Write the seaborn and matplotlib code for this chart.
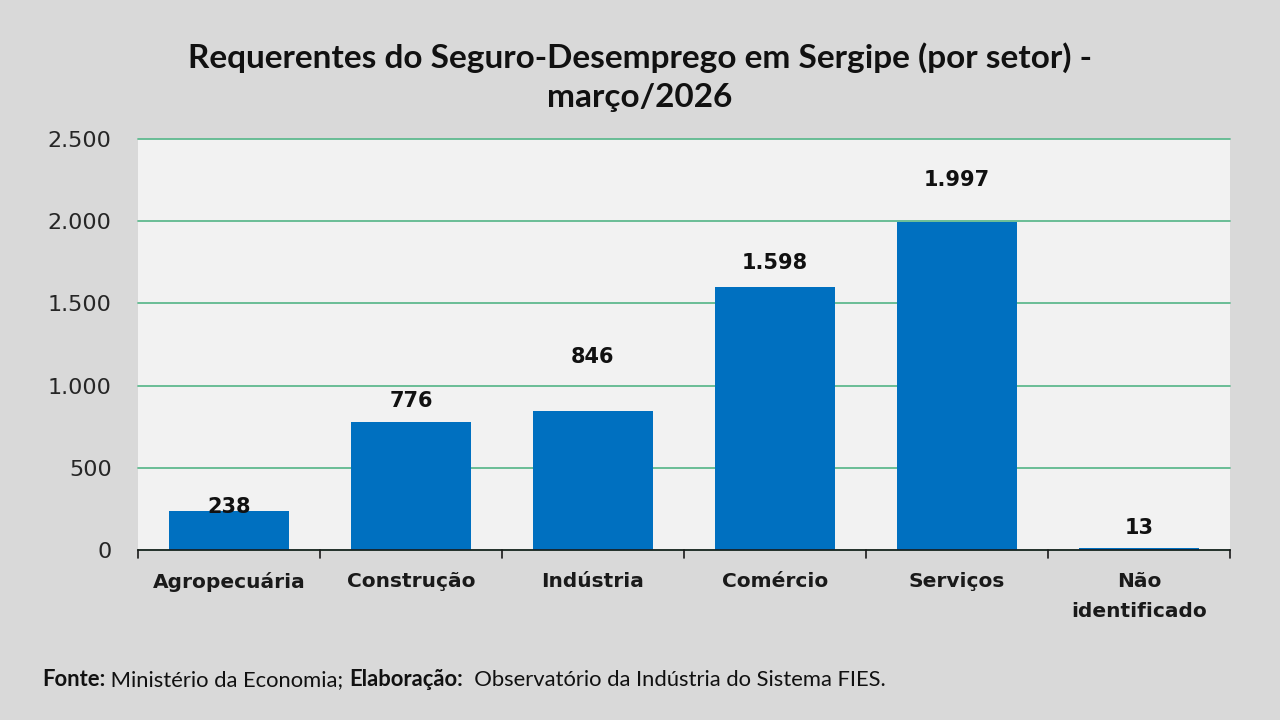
import matplotlib
matplotlib.use("Agg")
import matplotlib.pyplot as plt
import seaborn as sns
import pandas as pd

# dados
setores = ["Agropecuária", "Construção", "Indústria", "Comércio", "Serviços", "Não\nidentificado"]
requerentes = [238, 776, 846, 1598, 1997, 13]
rotulos = ["238", "776", "846", "1.598", "1.997", "13"]
yticks = [0, 500, 1000, 1500, 2000, 2500]
ytick_labels = ["0", "500", "1.000", "1.500", "2.000", "2.500"]

# deslocamento vertical dos rotulos (pixels acima do topo da barra)
label_offsets = [4, 21, 54, 24, 42, 20]

df = pd.DataFrame({"setor": setores, "valor": requerentes})

sns.set_style("white")
plt.rcParams["font.family"] = ["DejaVu Sans"]

fig = plt.figure(figsize=(12.8, 7.2), dpi=100, facecolor="#d9d9d9")
ax = fig.add_axes([138 / 1280, 1 - 550 / 720, 1092 / 1280, 411 / 720])
ax.set_facecolor("#f2f2f2")

sns.barplot(data=df, x="setor", y="valor", color="#0070c0", saturation=1,
            width=0.66, ax=ax, zorder=3, edgecolor="none", linewidth=0)

ax.set_ylim(0, 2500)
ax.set_xlim(-0.5, 5.5)
ax.set_yticks(yticks)
ax.set_yticklabels(ytick_labels, fontsize=16, color="#262626")
ax.yaxis.grid(True, color="#5fb98f", linewidth=1.3, zorder=0)
for gl in ax.get_ygridlines():
    gl.set_clip_on(False)
ax.set_axisbelow(True)
ax.set_xlabel("")
ax.set_ylabel("")
ax.set_xticks(range(6))
ax.set_xticklabels(setores, fontsize=14.5, fontweight="bold", color="#1a1a1a",
                   linespacing=1.75)
ax.tick_params(axis="x", length=0, pad=16)
ax.tick_params(axis="y", length=0, pad=19)

# marcas entre categorias
for b in [i - 0.5 for i in range(7)]:
    ax.plot([b, b], [0, -0.02], transform=ax.get_xaxis_transform(),
            color="#1a1a1a", lw=1.2, clip_on=False)

for s in ["top", "right", "left"]:
    ax.spines[s].set_visible(False)
ax.spines["bottom"].set_color("#1a1a1a")
ax.spines["bottom"].set_linewidth(1.2)
ax.spines["bottom"].set_zorder(4)

for i, (v, t) in enumerate(zip(requerentes, rotulos)):
    ax.annotate(t, (i, v), xytext=(0, label_offsets[i]), textcoords="offset pixels",
                ha="center", va="center", fontsize=15, fontweight="bold",
                color="#111111", zorder=5)

titulo_fonte = ["Lato", "DejaVu Sans"]
fig.text(0.5, 1 - 58 / 720, "Requerentes do Seguro-Desemprego em Sergipe (por setor) -",
         ha="center", va="center", fontsize=24, fontweight="bold",
         family=titulo_fonte, color="#111111")
fig.text(0.5, 1 - 98 / 720, "março/2026",
         ha="center", va="center", fontsize=24, fontweight="bold",
         family=titulo_fonte, color="#111111")

# rodape em partes (negrito / normal)
partes = [("Fonte:", "bold"), (" Ministério da Economia; ", "normal"),
          ("Elaboração:", "bold"), ("  Observatório da Indústria do Sistema FIES.", "normal")]
fig.canvas.draw()
renderer = fig.canvas.get_renderer()
x = 42
for txt, peso in partes:
    t = fig.text(x / 1280, 1 - 686 / 720, txt, ha="left", va="baseline",
                 fontsize=15.8, fontweight=peso, family=titulo_fonte, color="#111111")
    x += t.get_window_extent(renderer).width

fig.savefig("out.png", dpi=100, facecolor=fig.get_facecolor())
